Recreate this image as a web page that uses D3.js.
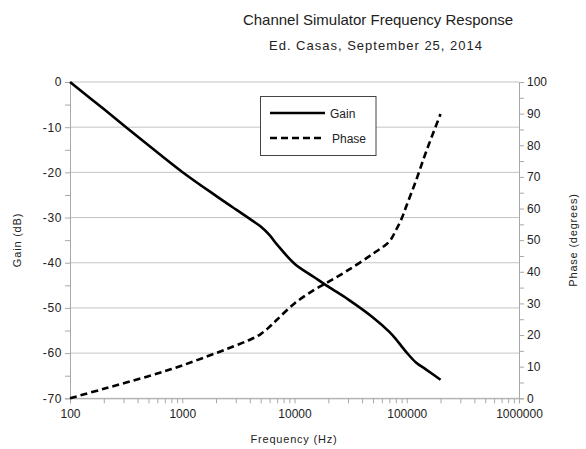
<!DOCTYPE html>
<html><head><meta charset="utf-8">
<script src="https://cdn.jsdelivr.net/npm/d3@7"></script>
<style>
html,body{margin:0;padding:0;background:#fff;}
text{font-family:"Liberation Sans",Arial,sans-serif;fill:#222;}
</style></head>
<body><svg id="c" width="586" height="449"></svg>
<script>
const freqs = [100,200,500,1000,2000,3000,4000,5000,6000,7000,10000,15000,20000,30000,50000,70000,80000,90000,100000,120000,150000,200000];
const gainDb = [0,-6.0,-14.0,-19.9,-25.2,-28.2,-30.3,-32.0,-33.9,-36.0,-40.2,-43.2,-45.3,-48.1,-52.1,-55.3,-56.9,-58.5,-59.9,-62.0,-63.7,-65.9];
const phaseDeg = [0,3.0,7.0,10.4,14.3,16.7,18.5,20.3,22.6,24.9,30.0,34.3,36.8,40.5,45.7,49.6,53.1,56.8,61.1,68.5,78.3,89.9];
const xTicks = [100,1000,10000,100000,1000000];
const gainTicks = [0,-10,-20,-30,-40,-50,-60,-70];
const phaseTicks = [0,10,20,30,40,50,60,70,80,90,100];
const seriesNames = ["Gain","Phase"];

const svg = d3.select("#c");
const L=70, R=519, T=82, B=398.3;
const x = d3.scaleLog().domain([100,1e6]).range([L,R]);
const yG = d3.scaleLinear().domain([-70,0]).range([B,T]);
const yP = d3.scaleLinear().domain([0,100]).range([B,T]);

// title
svg.append("text").attr("x",378).attr("y",25).attr("text-anchor","middle").style("font-size","15px").text("Channel Simulator Frequency Response");
svg.append("text").attr("x",376).attr("y",50).attr("text-anchor","middle").style("font-size","13px").style("letter-spacing","1px").text("Ed. Casas, September 25, 2014");

// gridlines
svg.append("g").selectAll("line").data(gainTicks).join("line")
  .attr("x1",L).attr("x2",R).attr("y1",d=>yG(d)).attr("y2",d=>yG(d))
  .attr("stroke","#c4c4c4").attr("stroke-width",1);

const axisColor="#a8a8a8";
// left axis
const gl = svg.append("g").attr("transform",`translate(${L},0)`)
  .call(d3.axisLeft(yG).tickValues(d3.range(-70,1,5)).tickSize(5).tickFormat(d=>gainTicks.includes(d)?d:""));
gl.select(".domain").attr("stroke",axisColor);
gl.selectAll(".tick line").attr("stroke",axisColor);
gl.selectAll(".tick text").attr("x",-8).style("font-size","12px").style("font-family","Liberation Sans, Arial").style("letter-spacing","0.6px").attr("fill","#222");

// right axis
const gr = svg.append("g").attr("transform",`translate(${R},0)`)
  .call(d3.axisRight(yP).tickValues(d3.range(0,101,5)).tickSize(5).tickFormat(d=>phaseTicks.includes(d)?d:""));
gr.select(".domain").attr("stroke",axisColor);
gr.selectAll(".tick line").attr("stroke",axisColor);
gr.selectAll(".tick text").attr("x",8).style("font-size","12px").style("font-family","Liberation Sans, Arial").attr("fill","#222");

// bottom axis
const minor=[];
for(let e=2;e<6;e++) for(let k=1;k<=9;k++) minor.push(k*Math.pow(10,e));
minor.push(1e6);
const gb = svg.append("g").attr("transform",`translate(0,${B})`)
  .call(d3.axisBottom(x).tickValues(minor).tickSize(5).tickFormat(d=>xTicks.includes(d)?String(d):""));
gb.select(".domain").attr("stroke",axisColor);
gb.selectAll(".tick line").attr("stroke",axisColor);
gb.selectAll(".tick text").attr("y",11).style("font-size","12px").style("font-family","Liberation Sans, Arial").attr("fill","#222");

// axis titles
svg.append("text").attr("x",294).attr("y",443).attr("text-anchor","middle").style("font-size","11px").style("letter-spacing","0.8px").text("Frequency (Hz)");
svg.append("text").attr("transform","translate(21,240) rotate(-90)").attr("text-anchor","middle").style("font-size","11px").style("letter-spacing","0.8px").text("Gain (dB)");
svg.append("text").attr("transform","translate(577,240) rotate(-90)").attr("text-anchor","middle").style("font-size","11px").style("letter-spacing","0.8px").text("Phase (degrees)");

// lines
const gData = freqs.map((f,i)=>[f,gainDb[i]]);
const pData = freqs.map((f,i)=>[f,phaseDeg[i]]);
svg.append("path").datum(gData)
  .attr("d",d3.line().x(d=>x(d[0])).y(d=>yG(d[1])).curve(d3.curveCatmullRom.alpha(0.5)))
  .attr("fill","none").attr("stroke","#000").attr("stroke-width",2.6);
svg.append("path").datum(pData)
  .attr("d",d3.line().x(d=>x(d[0])).y(d=>yP(d[1])).curve(d3.curveCatmullRom.alpha(0.5)))
  .attr("fill","none").attr("stroke","#000").attr("stroke-width",2.6).attr("stroke-dasharray","7,4");

// legend
const lg = svg.append("g");
lg.append("rect").attr("x",260.5).attr("y",96.5).attr("width",115.5).attr("height",59)
  .attr("fill","#fff").attr("stroke","#444").attr("stroke-width",1);
lg.append("line").attr("x1",270).attr("x2",325).attr("y1",113).attr("y2",113).attr("stroke","#000").attr("stroke-width",2.6);
lg.append("line").attr("x1",270).attr("x2",325).attr("y1",138).attr("y2",138).attr("stroke","#000").attr("stroke-width",2.6).attr("stroke-dasharray","7,4");
lg.append("text").attr("x",330).attr("y",117.5).style("font-size","12px").text(seriesNames[0]);
lg.append("text").attr("x",332).attr("y",142.5).style("font-size","12px").text(seriesNames[1]);
</script></body></html>
